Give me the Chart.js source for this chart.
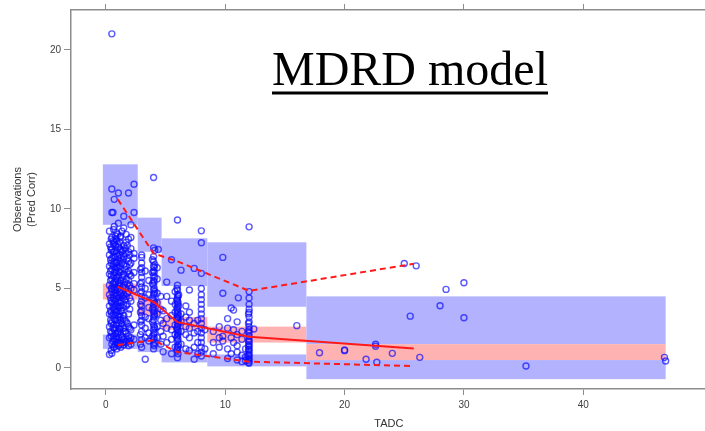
<!DOCTYPE html>
<html>
<head>
<meta charset="utf-8">
<script src="https://cdn.jsdelivr.net/npm/chart.js@4.4.1/dist/chart.umd.min.js"></script>
<style>
  html, body { margin: 0; padding: 0; background: #fff; overflow: hidden; width: 705px; height: 431px; }
  #wrap { width: 712px; height: 431px; }
</style>
</head>
<body>
<div id="wrap"><canvas id="vpc" width="712" height="431"></canvas></div>
<script>
// Observed data, grouped by time column (TADC) -> prediction corrected observations
const obsTimes = [
  0.3, 0.4, 0.5, 0.6, 0.7, 0.8, 0.9, 1.05, 1.15, 1.25, 1.35, 1.5, 1.6, 1.7, 1.8, 1.9, 2.1, 2.36,
  0.45, 0.65, 0.85, 1.0, 1.2, 1.45, 2.0,
  3.0, 3.3, 3.6, 3.9, 4.0, 4.1, 4.3, 4.4, 4.6, 2.9, 4.05,
  4.8, 5.1, 5.5, 5.8, 5.95, 6.0, 6.1, 6.3, 6.7, 7.0, 7.4, 7.7, 8.0, 8.3, 6.05,
  9.0, 9.5, 9.8, 10.2, 10.5, 10.7, 11.0, 11.1, 11.4, 11.7, 12.0, 12.4, 11.95,
  16.0, 17.9, 20.0, 21.8, 22.6, 22.7, 24.0, 25.0, 25.5, 26.0, 26.3, 28.0, 28.5, 30.0, 35.2, 46.8, 46.9
];
const obsValues = [
  [0.85, 1.9, 2.6, 3.4, 3.9, 4.6, 5.2, 5.9, 6.4, 7.1, 7.8, 8.6],
  [2.3, 3.0, 3.6, 4.4, 5.5, 6.1, 6.8, 7.6],
  [0.93, 1.5, 2.2, 2.9, 3.3, 4.1, 4.8, 5.0, 5.6, 6.2, 6.9, 7.5, 8.2, 9.77, 11.25, 21.0],
  [1.7, 2.5, 3.8, 4.4, 5.3, 6.5, 7.3, 8.0, 9.77],
  [1.3, 1.8, 2.4, 3.1, 3.7, 4.3, 4.9, 5.4, 6.0, 6.7, 7.3, 7.9, 8.9, 10.6],
  [1.5, 2.2, 3.0, 3.6, 4.2, 4.9, 5.6, 6.2, 7.0, 7.7, 8.3],
  [1.2, 1.6, 2.0, 2.7, 3.5, 4.0, 4.5, 5.1, 5.7, 6.3, 6.6, 7.2, 8.0, 8.5],
  [1.4, 1.9, 2.3, 2.8, 3.2, 3.8, 4.4, 5.3, 5.8, 6.1, 6.8, 7.6, 9.1, 11.0],
  [1.6, 2.5, 3.4, 4.1, 4.8, 5.2, 6.4, 7.1, 7.9],
  [1.3, 2.1, 2.6, 3.0, 3.6, 4.2, 4.7, 5.5, 6.2, 6.9, 7.4, 8.3],
  [1.9, 2.8, 3.6, 4.5, 5.7, 6.6, 7.3, 8.6],
  [1.45, 1.8, 2.5, 3.3, 4.0, 4.6, 5.2, 5.9, 6.5, 7.0, 7.7, 8.8, 9.54],
  [1.7, 2.3, 3.0, 4.3, 5.4, 6.2, 7.5],
  [1.6, 2.2, 2.9, 3.9, 4.5, 5.0, 5.6, 6.4, 7.2, 7.9, 8.4],
  [1.8, 2.8, 4.0, 4.7, 5.3, 6.0, 6.9, 7.7],
  [1.4, 2.0, 2.6, 3.4, 4.8, 5.5, 6.1, 6.7, 7.3, 8.1, 11.0],
  [1.5, 1.9, 2.4, 4.2, 5.0, 5.8, 6.6, 7.5, 8.2, 9.0],
  [1.8, 2.7, 4.9, 5.3, 6.0, 6.9, 7.2, 9.77, 11.55],
  [1.1, 2.0, 2.8, 3.5, 4.2, 5.0, 5.8, 6.6, 7.4, 8.1],
  [1.3, 2.0, 2.7, 3.4, 4.0, 4.6, 5.1, 5.8, 6.4, 7.0, 7.8, 8.7],
  [1.8, 2.5, 3.3, 3.9, 4.7, 5.4, 6.0, 6.6, 7.4, 8.1],
  [1.6, 2.2, 3.0, 3.6, 4.1, 4.6, 5.0, 5.5, 6.3, 7.0, 7.8, 8.4],
  [1.5, 2.4, 3.2, 3.9, 4.6, 5.3, 6.0, 6.7, 7.5, 8.2],
  [1.6, 2.3, 3.1, 3.8, 4.4, 5.1, 5.8, 6.8, 7.4],
  [1.7, 2.5, 3.7, 4.4, 5.2, 5.9, 6.5, 7.1],
  [1.3, 1.8, 2.3, 2.7, 3.0, 3.3, 3.6, 3.9, 4.2, 4.5, 4.8, 5.1, 5.4, 5.7, 6.0, 6.3, 6.6, 6.95, 7.1],
  [0.55, 1.9, 2.5, 3.2, 4.4, 5.0, 6.1],
  [1.7, 2.2, 3.1, 3.8, 4.6, 5.5],
  [2.0, 2.9, 3.7, 4.4, 5.3, 6.0, 6.8],
  [1.2, 1.5, 1.8, 2.1, 2.4, 2.7, 3.0, 3.2, 3.5, 3.8, 4.0, 4.3, 4.6, 4.9, 5.2, 5.5, 5.8, 6.1, 6.4, 6.7, 7.0, 7.55, 11.97],
  [1.6, 2.5, 3.3, 4.1, 4.8, 5.7, 6.5, 7.4],
  [1.9, 2.6, 3.4, 4.1, 4.7, 5.6, 6.3],
  [7.45],
  [1.5, 2.3, 3.0, 3.7, 4.5],
  [1.5, 2.1, 2.9, 3.5, 4.0, 4.7, 5.3, 6.2],
  [1.4, 1.9, 2.2, 2.6, 3.4, 3.6, 4.2, 4.7, 5.0, 5.4, 6.0, 6.3],
  [1.02, 2.0, 2.8, 3.6],
  [1.6, 2.5, 3.1, 4.5, 5.4],
  [0.9, 1.8, 2.4, 3.3, 4.2, 6.8],
  [1.3, 2.1, 2.7, 3.5, 4.0, 4.8],
  [1.2, 1.9, 2.5, 3.1, 3.7, 4.3, 5.0],
  [0.65, 1.1, 1.4, 1.7, 2.0, 2.2, 2.4, 2.6, 2.8, 3.0, 3.2, 3.4, 3.6, 3.8, 4.0, 4.2, 4.4, 4.6, 4.9, 5.2, 9.3],
  [1.5, 2.3, 2.9, 3.3, 3.9, 4.6],
  [1.5, 2.3, 2.9, 3.4, 6.15],
  [1.2, 2.1, 2.6, 3.2, 3.9],
  [1.1, 1.9, 2.5, 3.0, 3.5, 4.9],
  [0.55, 1.3, 2.2, 2.8, 6.26],
  [0.9, 1.6, 2.3, 3.0],
  [0.75, 1.0, 1.3, 1.6, 1.9, 2.2, 2.5, 2.8, 3.1, 3.4, 3.7, 4.0, 4.3, 4.6, 5.0, 5.95, 7.87, 8.62],
  [1.2, 2.4],
  [0.9, 1.3, 1.8, 2.1, 2.7, 3.1, 3.5, 4.1, 4.5],
  [0.9, 1.6, 2.3],
  [1.3, 1.9, 2.6],
  [1.7, 2.0, 4.7, 6.95],
  [0.6, 1.2, 2.5, 3.1],
  [0.9, 1.9, 3.77],
  [1.6, 2.4, 3.64],
  [0.5, 1.0, 1.4, 2.1, 2.9],
  [4.41],
  [0.4, 0.8, 1.8, 2.3],
  [0.45, 0.7, 1.2],
  [0.3, 0.45, 0.6, 0.75, 0.9, 1.05, 1.2, 1.35, 1.5, 1.65, 1.8, 2.0, 2.2, 2.4, 2.6, 2.9, 3.2, 3.5, 3.7, 4.0, 4.4, 4.8, 8.87],
  [2.45],
  [0.35, 0.55, 0.8, 1.15, 1.4, 1.7, 2.3, 2.8, 3.4],
  [2.66],
  [0.96],
  [1.09, 1.13],
  [0.55],
  [1.37, 1.49],
  [0.36],
  [0.92],
  [6.57],
  [3.26],
  [6.42],
  [0.67],
  [3.91],
  [4.94],
  [3.16, 5.36],
  [0.13],
  [0.67],
  [0.44]
];

// Bins of the VPC (x range of each shaded block)
const binStart = [-0.25, 2.67, 4.67, 8.5, 16.8];
const binEnd = [2.67, 4.67, 8.5, 16.8, 46.9];
// 95% CI of simulated 95th percentile
const upperCiHigh = [12.8, 9.45, 8.15, 7.9, 4.5];
const upperCiLow = [9.0, 7.3, 5.15, 3.85, 1.5];
// 95% CI of simulated median
const medianCiHigh = [5.3, 4.3, 3.2, 2.6, 1.5];
const medianCiLow = [4.3, 3.3, 2.4, 1.6, 0.5];
// 95% CI of simulated 5th percentile
const lowerCiHigh = [2.1, 1.9, 1.15, 0.85, 0.5];
const lowerCiLow = [1.2, 1.0, 0.35, 0.1, -0.7];

// Observed percentiles per bin
const binTimes = [1.0, 4.0, 6.0, 12.0, 25.8];
const obsMedian = [5.1, 4.15, 2.88, 1.97, 1.23];
const obsP95 = [10.6, 7.2, 6.7, 4.85, 6.55];
const obsP5 = [1.45, 1.75, 1.0, 0.4, 0.12];

const xTicks = [0, 10, 20, 30, 40];
const yTicks = [0, 5, 10, 15, 20];

const points = obsTimes.flatMap((t, i) => obsValues[i].map(v => ({ x: t, y: v })));
const toLine = vals => binTimes.map((t, i) => ({ x: t, y: vals[i] }));

const BLUE_BAND = '#b2b2ff';
const RED_BAND = '#ffb2b2';

// shaded prediction interval blocks, drawn under the data
const bandsPlugin = {
    id: 'bands',
    beforeDatasetsDraw(chart) {
        const { ctx, chartArea, scales: { x, y } } = chart;
        ctx.save();
        ctx.beginPath();
        ctx.rect(chartArea.left, chartArea.top, chartArea.width, chartArea.height);
        ctx.clip();
        const block = (i, lo, hi, color) => {
            const x0 = x.getPixelForValue(binStart[i]);
            const x1 = x.getPixelForValue(binEnd[i]);
            const y0 = y.getPixelForValue(hi[i]);
            const y1 = y.getPixelForValue(lo[i]);
            ctx.fillStyle = color;
            ctx.fillRect(x0, y0, x1 - x0, y1 - y0);
        };
        binStart.forEach((_, i) => {
            block(i, upperCiLow, upperCiHigh, BLUE_BAND);
            block(i, lowerCiLow, lowerCiHigh, BLUE_BAND);
            block(i, medianCiLow, medianCiHigh, RED_BAND);
        });
        ctx.restore();
    }
};

// big underlined heading
const headingPlugin = {
    id: 'heading',
    afterDraw(chart) {
        const ctx = chart.ctx;
        const text = 'MDRD model';
        ctx.save();
        ctx.font = '48px "Liberation Serif", "Times New Roman", serif';
        ctx.fillStyle = '#000';
        ctx.textBaseline = 'alphabetic';
        ctx.fillText(text, 272, 85);
        const w = ctx.measureText(text).width;
        ctx.fillRect(272, 91.5, w, 3);
        ctx.restore();
    }
};

const axisGray = '#8c8c8c';
const tickFont = { family: '"Liberation Sans", Arial, sans-serif', size: 10 };

new Chart(document.getElementById('vpc'), {
    type: 'scatter',
    data: {
        datasets: [
            {
                label: 'Observations',
                data: points,
                pointStyle: 'circle',
                pointRadius: 3,
                pointBorderWidth: 1.4,
                borderColor: 'rgba(10, 10, 255, 0.68)',
                backgroundColor: 'rgba(0,0,0,0)',
                order: 3
            },
            {
                type: 'line',
                label: 'Median',
                data: toLine(obsMedian),
                borderColor: '#ff1a1a',
                borderWidth: 2,
                pointRadius: 0,
                fill: false,
                order: 1
            },
            {
                type: 'line',
                label: '95th',
                data: toLine(obsP95),
                borderColor: '#ff1a1a',
                borderWidth: 2,
                borderDash: [6, 4],
                pointRadius: 0,
                fill: false,
                order: 1
            },
            {
                type: 'line',
                label: '5th',
                data: toLine(obsP5),
                borderColor: '#ff1a1a',
                borderWidth: 2,
                borderDash: [6, 4],
                pointRadius: 0,
                fill: false,
                order: 1
            }
        ]
    },
    options: {
        responsive: false,
        animation: false,
        devicePixelRatio: 1,
        layout: { padding: { left: 0, right: 2, top: 0, bottom: 0 } },
        plugins: {
            legend: { display: false },
            tooltip: { enabled: false }
        },
        scales: {
            x: {
                type: 'linear',
                position: 'bottom',
                min: -2.92,
                max: 50.33,
                afterBuildTicks: s => { s.ticks = xTicks.map(v => ({ value: v })); },
                afterFit: s => { s.height = 42; },
                grid: { drawOnChartArea: false, drawTicks: true, tickLength: 6, color: axisGray },
                border: { display: true, color: axisGray, width: 1.5 },
                ticks: { font: tickFont, color: '#404040', padding: 4, maxRotation: 0, autoSkip: false },
                title: {
                    display: true,
                    text: 'TADC',
                    font: { family: '"Liberation Sans", Arial, sans-serif', size: 11 },
                    color: '#333',
                    padding: { top: 0, bottom: 0 }
                }
            },
            x2: {
                type: 'linear',
                position: 'top',
                min: -2.92,
                max: 50.33,
                afterBuildTicks: s => { s.ticks = xTicks.map(v => ({ value: v })); },
                afterFit: s => { s.height = 10; },
                grid: { drawOnChartArea: false, drawTicks: true, tickLength: 6, color: axisGray },
                border: { display: true, color: axisGray, width: 1.5 },
                ticks: { display: false }
            },
            y: {
                type: 'linear',
                position: 'left',
                min: -1.32,
                max: 22.5,
                afterBuildTicks: s => { s.ticks = yTicks.map(v => ({ value: v })); },
                afterFit: s => { s.width = 71; },
                grid: { drawOnChartArea: false, drawTicks: true, tickLength: 7, color: axisGray },
                border: { display: true, color: axisGray, width: 1.5 },
                ticks: { font: tickFont, color: '#404040', padding: 3 },
                title: {
                    display: true,
                    text: ['Observations', '(Pred Corr)'],
                    font: { family: '"Liberation Sans", Arial, sans-serif', size: 11, lineHeight: 1.27 },
                    color: '#333',
                    padding: { top: 11, bottom: 0 }
                }
            }
        }
    },
    plugins: [bandsPlugin, headingPlugin]
});
</script>
</body>
</html>
